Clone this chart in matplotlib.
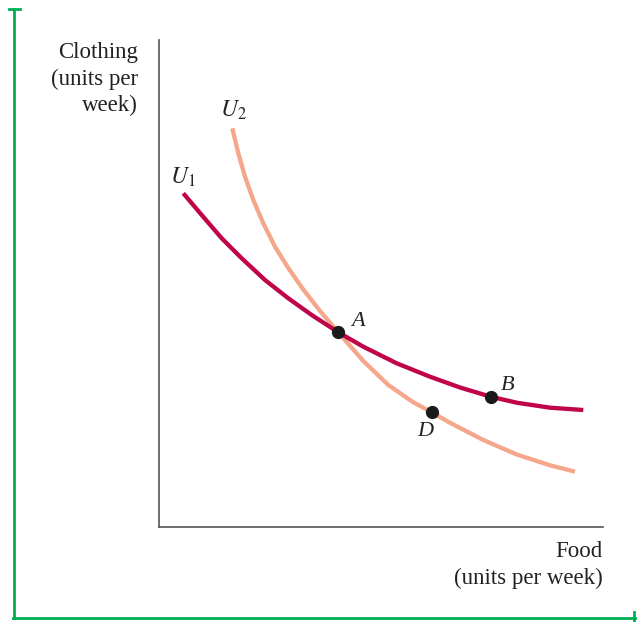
import matplotlib.pyplot as plt
from matplotlib.lines import Line2D

# curves (arbitrary units, axes 0-444 by 0-487)
u1_x = [24.3, 42.7, 62.7, 82.7, 106, 129.3, 152.7, 179.3, 204.3, 237.7, 271, 301,
        331.7, 357.7, 391, 424.3]
u1_y = [333.7, 312, 288.7, 268.7, 247, 228.7, 212, 194.7, 180.3, 163.7, 150.3, 139.5,
        130.3, 124.3, 119.3, 117]
u2_x = [73.3, 79.3, 86, 94.3, 104.3, 116, 128.4, 144.1, 160.8, 179.3, 204.3, 229.3,
        254.3, 272.7, 291, 324.3, 357.7, 391, 416]
u2_y = [398.7, 373.7, 350.3, 327, 303.7, 280.3, 260.3, 237.7, 216.3, 194.7, 166, 142,
        124.7, 114.7, 104.2, 87, 72.5, 61.7, 55.3]

points = ["A", "B", "D"]
point_x = [179.3, 331.7, 272.7]
point_y = [194.7, 130.3, 114.7]

plt.rcParams["font.family"] = ["Liberation Serif", "DejaVu Serif"]
plt.rcParams["mathtext.fontset"] = "stix"

W, H = 643, 622
fig = plt.figure(figsize=(W / 100, H / 100), dpi=100)
ax = fig.add_axes([159 / W, (H - 527) / H, (603 - 159) / W, (527 - 40) / H])
ax.set_xlim(0, 444)
ax.set_ylim(0, 487)

red = "#C0044A"
salmon = "#F5A78C"
ax.plot(u2_x, u2_y, color=salmon, lw=3.1, solid_capstyle="butt", solid_joinstyle="round", zorder=2)
ax.plot(u1_x, u1_y, color=red, lw=3.1, solid_capstyle="butt", solid_joinstyle="round", zorder=3)
ax.plot(point_x, point_y, "o", color="#1a1a1a", ms=8.5, zorder=4)

offsets = {"A": (19.7, 11.3), "B": (17.3, 11.7), "D": (-6.7, -19.7)}
for name, x, y in zip(points, point_x, point_y):
    dx, dy = offsets[name]
    ax.text(x + dx, y + dy, name, style="italic", fontsize=16, ha="center", va="center",
            color="#222222")

ax.text(24, 350, "$U_1$", fontsize=17, ha="center", va="center", color="#222222")
ax.text(74, 417, "$U_2$", fontsize=17, ha="center", va="center", color="#222222")

for s in ["top", "right"]:
    ax.spines[s].set_visible(False)
for s in ["left", "bottom"]:
    ax.spines[s].set_color("#555555")
    ax.spines[s].set_linewidth(1.2)
ax.set_xticks([])
ax.set_yticks([])

fig.text(138 / W, 1 - 79 / H, "Clothing\n(units per\nweek)", ha="right", va="center",
         fontsize=16.5, linespacing=1.36, color="#222222")
fig.text(603 / W, 1 - 565 / H, "Food\n(units per week)", ha="right", va="center",
         fontsize=16.5, linespacing=1.36, color="#222222")

# green frame
green = "#00B050"
def fline(xs, ys):
    fig.add_artist(Line2D([x / W for x in xs], [1 - y / H for y in ys], color=green, lw=2.0,
                          transform=fig.transFigure))
fline([14, 14], [9, 618])
fline([9, 20], [9, 9])
fline([13, 635], [618, 618])
fline([634, 634], [612, 622])

fig.savefig("out.png", dpi=100)
